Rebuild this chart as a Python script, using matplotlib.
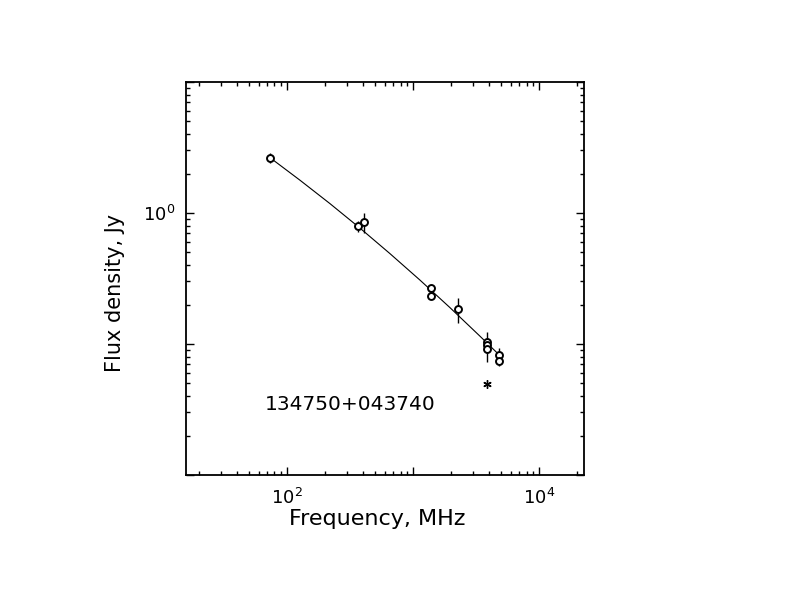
import numpy as np
import matplotlib
matplotlib.use('Agg')
import matplotlib.pyplot as plt
from matplotlib.ticker import LogLocator, NullFormatter, FixedLocator, FixedFormatter

plt.rcParams['mathtext.default'] = 'regular'

# measured points (MHz, Jy)
freq = [74, 365, 408, 1400, 1400, 2300, 3900, 3900, 3900, 4850, 4850]
flux = [2.62, 0.796, 0.854, 0.266, 0.232, 0.184, 0.1036, 0.0981, 0.0916, 0.0824, 0.0742]
ferr = [0.23, 0.08, 0.15, 0.0, 0.0, 0.04, 0.008, 0.025, 0.006, 0.01, 0.006]

# point not used in the fit
star_freq = [3900]
star_flux = [0.0492]

# fitted spectrum
fit_freq = [74.7, 127.4, 220.2, 380.5, 657.5, 1136, 1963, 3393, 4651]
fit_flux = [2.62, 1.780, 1.180, 0.768, 0.4907, 0.3085, 0.1903, 0.1153, 0.0858]

name = '134750+043740'

fig = plt.figure(figsize=(7.92, 6.12), dpi=100)
ax = fig.add_axes([186/792, 1-475/612, 398/792, 393/612])

ax.plot(fit_freq, fit_flux, color='black', lw=0.8)
ax.errorbar(freq, flux, yerr=ferr, fmt='o', mfc='white', mec='black', mew=1.4,
            ms=5, ecolor='black', elinewidth=1.0, capsize=0, zorder=3)
ax.plot(star_freq, star_flux, marker=(6, 2, 0), ls='none', color='black', ms=6, mew=1.0)

ax.set_xscale('log')
ax.set_yscale('log')
ax.set_xlim(15.9, 22800)
ax.set_ylim(0.01, 10)

ax.xaxis.set_major_locator(FixedLocator([1e2, 1e3, 1e4]))
ax.xaxis.set_major_formatter(FixedFormatter(['$10^2$', '', '$10^4$']))
ax.yaxis.set_major_locator(FixedLocator([1e-2, 1e-1, 1e0, 1e1]))
ax.yaxis.set_major_formatter(FixedFormatter(['', '', '$10^0$', '']))
ax.xaxis.set_minor_locator(LogLocator(base=10, subs=np.arange(2, 10), numticks=20))
ax.yaxis.set_minor_locator(LogLocator(base=10, subs=np.arange(2, 10), numticks=20))
ax.xaxis.set_minor_formatter(NullFormatter())
ax.yaxis.set_minor_formatter(NullFormatter())

ax.tick_params(which='both', direction='in', top=True, right=True, width=1.0, labelsize=13)
ax.tick_params(which='major', length=5.5)
ax.tick_params(which='minor', length=3)
ax.tick_params(axis='x', which='major', pad=9)
ax.tick_params(axis='y', which='major', pad=8)
for s in ax.spines.values():
    s.set_linewidth(1.3)

ax.text(0.198, 0.18, name, transform=ax.transAxes, fontsize=14.5, ha='left', va='center')

fig.text(377/792, 1-519/612, 'Frequency, MHz', fontsize=16, ha='center', va='center')
fig.text(115/792, 1-293/612, 'Flux density, Jy', fontsize=15, ha='center', va='center',
         rotation=90)

fig.savefig('out.png', dpi=100)
